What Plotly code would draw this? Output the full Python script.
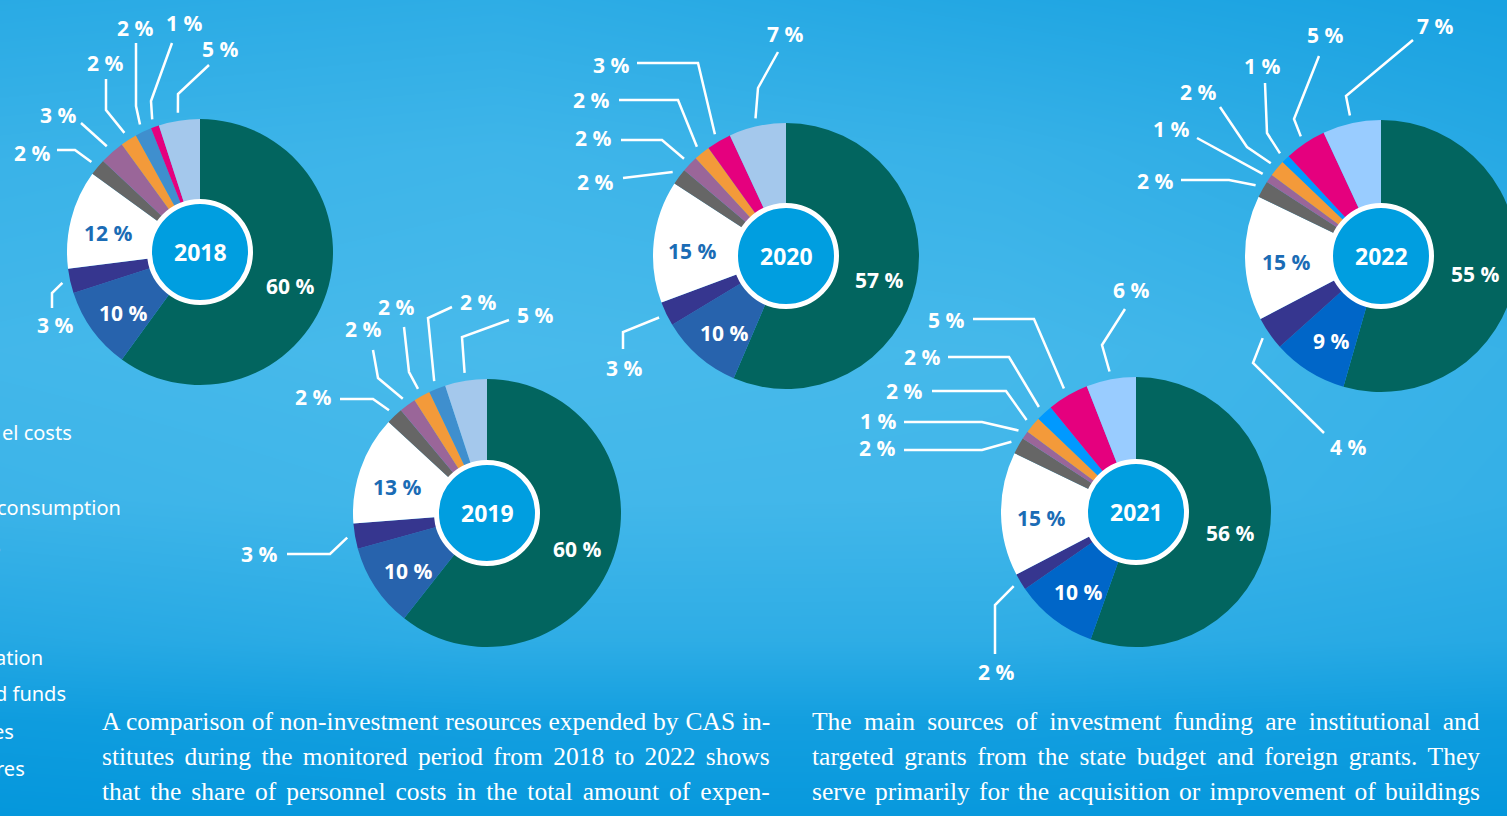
import math
import plotly.graph_objects as go

# ---------------- data ----------------
years = ["2018", "2019", "2020", "2021", "2022"]

# slice categories (clockwise from 12 o'clock)
cats_2018 = ["A", "B", "C", "D", "E", "F", "G", "H", "I", "J"]
cats_2019 = ["A", "B", "C", "D", "E", "F", "G", "H", "J"]
cats_2020 = ["A", "B", "C", "D", "E", "F", "G", "I", "J"]
cats_2021 = ["A", "B", "C", "D", "E", "F", "G", "H", "I", "J"]
cats_2022 = ["A", "B", "C", "D", "E", "F", "G", "H", "I", "J"]

vals_2018 = [60, 10, 3, 12, 2, 3, 2, 2, 1, 5]
vals_2019 = [60, 10, 3, 13, 2, 2, 2, 2, 5]
vals_2020 = [57, 10, 3, 15, 2, 2, 2, 3, 7]
vals_2021 = [56, 10, 2, 15, 2, 1, 2, 2, 5, 6]
vals_2022 = [55, 9, 4, 15, 2, 1, 2, 1, 5, 7]

legend_fragments = ["el costs", "consumption", "s", "ation", "d funds", "es", "res"]

para_left = [
    "A comparison of non-investment resources expended by CAS in-",
    "stitutes during the monitored period from 2018 to 2022 shows",
    "that the share of personnel costs in the total amount of expen-",
]
para_right = [
    "The main sources of investment funding are institutional and",
    "targeted grants from the state budget and foreign grants. They",
    "serve primarily for the acquisition or improvement of buildings",
]

# ---------------- style / layout ----------------
W, H = 1525, 816

colors_old = {"A": "#02655f", "B": "#2763ad", "C": "#36368f", "D": "#ffffff",
              "E": "#666666", "F": "#9a6699", "G": "#f39a3a", "H": "#3f8fce",
              "I": "#e5007e", "J": "#a4c8ec"}
colors_new = dict(colors_old, B="#0066c8", H="#0099ff", J="#99ccff")

pies = [
    dict(year="2018", cats=cats_2018, vals=vals_2018, cx=200, cy=252, r=133, pal=colors_old,
         out={2: ((55, 325), [(52, 308), (52, 293)]),
              4: ((32, 153), [(57, 150), (75, 150)]),
              5: ((58, 115), [(81, 123)]),
              6: ((105, 63), [(106, 79), (106, 110)]),
              7: ((135, 28), [(136, 43), (136, 106)]),
              8: ((184, 23), [(172, 43), (151, 101)]),
              9: ((220, 49), [(209, 65), (178, 94)])}),
    dict(year="2019", cats=cats_2019, vals=vals_2019, cx=487, cy=513, r=134, pal=colors_old,
         out={2: ((259, 554), [(287, 554), (330, 554)]),
              4: ((313, 397), [(340, 399), (373, 399)]),
              5: ((363, 329), [(373, 350), (378, 378)]),
              6: ((396, 307), [(404, 327), (409, 372)]),
              7: ((478, 302), [(452, 307), (428, 318)]),
              8: ((535, 315), [(509, 320), (462, 337)])}),
    dict(year="2020", cats=cats_2020, vals=vals_2020, cx=786, cy=256, r=133, pal=colors_old,
         out={2: ((624, 368), [(623, 349), (623, 332)]),
              4: ((595, 182), [(623, 178)]),
              5: ((593, 138), [(621, 140), (662, 140)]),
              6: ((591, 100), [(619, 100), (678, 100)]),
              7: ((611, 65), [(637, 63), (698, 63)]),
              8: ((785, 34), [(778, 52), (758, 88)])}),
    dict(year="2021", cats=cats_2021, vals=vals_2021, cx=1136, cy=512, r=135, pal=colors_new,
         out={2: ((996, 672), [(995, 654), (995, 605)]),
              4: ((877, 448), [(904, 450), (982, 450)]),
              5: ((878, 421), [(904, 422), (982, 422)]),
              6: ((904, 391), [(932, 391), (1006, 391)]),
              7: ((922, 357), [(948, 357), (1009, 357)]),
              8: ((946, 320), [(973, 319), (1034, 319)]),
              9: ((1131, 290), [(1125, 309), (1102, 345)])}),
    dict(year="2022", cats=cats_2022, vals=vals_2022, cx=1381, cy=256, r=136, pal=colors_new,
         out={2: ((1348, 447), [(1324, 433), (1253, 363)]),
              4: ((1155, 181), [(1181, 180), (1229, 180)]),
              5: ((1171, 129), [(1197, 138)]),
              6: ((1198, 92), [(1220, 107), (1247, 147)]),
              7: ((1262, 66), [(1265, 83), (1267, 133)]),
              8: ((1325, 35), [(1319, 56), (1294, 119)]),
              9: ((1435, 26), [(1413, 40), (1346, 96)])}),
]

# background gradient (lightness grid)
bg_x = [0, 500, 1000, 1525]
bg_y = [0, 150, 350, 500, 640, 720, 816]
bg_z = [
    [0.55, 0.62, 0.45, 0.30],
    [0.78, 0.86, 0.75, 0.50],
    [0.92, 1.00, 0.95, 0.75],
    [0.82, 0.92, 0.90, 0.70],
    [0.48, 0.62, 0.62, 0.50],
    [0.15, 0.22, 0.22, 0.15],
    [0.00, 0.05, 0.05, 0.00],
]

fig = go.Figure()
fig.add_trace(go.Heatmap(x=bg_x, y=bg_y, z=bg_z, zmin=0, zmax=1, zsmooth="best",
                         colorscale=[[0, "#0497dc"], [1, "#48baeb"]],
                         showscale=False, hoverinfo="skip"))

shapes = []
annotations = []
BOLD = dict(family="Open Sans", size=21, color="white", weight=700)

def pt(cx, cy, rad, frac):
    a = 2 * math.pi * frac
    return cx + rad * math.sin(a), cy - rad * math.cos(a)

for p in pies:
    cx, cy, r = p["cx"], p["cy"], p["r"]
    fig.add_trace(go.Pie(
        values=p["vals"], labels=p["cats"],
        marker=dict(colors=[p["pal"][c] for c in p["cats"]], line=dict(width=0)),
        sort=False, direction="clockwise", rotation=0, hole=0.37,
        textinfo="none", hoverinfo="skip", showlegend=False,
        domain=dict(x=[(cx - r) / W, (cx + r) / W], y=[1 - (cy + r) / H, 1 - (cy - r) / H]),
    ))
    total = sum(p["vals"])
    cum = 0
    for i, v in enumerate(p["vals"]):
        mid = (cum + v / 2) / total
        cum += v
        txt = f"{v} %"
        if i in p["out"]:
            (tx, ty), elbows = p["out"][i]
            ex, ey = pt(cx, cy, r + 8, mid)
            pts = elbows + [(ex, ey)]
            path = "M " + " L ".join(f"{x:.1f},{y:.1f}" for x, y in pts)
            shapes.append(dict(type="path", xref="x", yref="y", path=path,
                               line=dict(color="white", width=2.5)))
            annotations.append(dict(x=tx, y=ty, xref="x", yref="y", text=txt, showarrow=False,
                                    xanchor="center", yanchor="middle", font=BOLD))
        elif i in (0, 1, 3):
            lx, ly = pt(cx, cy, 95, mid)
            f = dict(BOLD)
            if i == 3:
                f["color"] = "#1b6cb5"
            annotations.append(dict(x=lx, y=ly + 5, xref="x", yref="y", text=txt, showarrow=False,
                                    xanchor="center", yanchor="middle", font=f))
    shapes.append(dict(type="circle", xref="x", yref="y", x0=cx - 50.5, x1=cx + 50.5,
                       y0=cy - 50.5, y1=cy + 50.5, fillcolor="#009ee0",
                       line=dict(color="white", width=5)))
    annotations.append(dict(x=cx, y=cy, xref="x", yref="y", text=p["year"], showarrow=False,
                            xanchor="center", yanchor="middle",
                            font=dict(family="Open Sans", size=23, color="white", weight=700)))

# cut-off legend texts at left edge (as in the reference)
frag_pos = [(74, 432), (123, 507), (3, 545), (45, 657), (68, 693), (16, 731), (27, 768)]
for t, (x, y) in zip(legend_fragments, frag_pos):
    annotations.append(dict(x=x, y=y, xref="x", yref="y", text=t, showarrow=False,
                            xanchor="right", yanchor="middle",
                            font=dict(family="Noto Sans", size=20, color="white")))

# justified paragraphs: per-line word spacing (px)
ws_left = [0.5, 3.9, 3.6]
ws_right = [5.9, 4.3, 2.75]
for lines, wss, x0 in ((para_left, ws_left, 100), (para_right, ws_right, 810)):
    for k, (line, ws) in enumerate(zip(lines, wss)):
        annotations.append(dict(x=x0, y=721 + 35 * k, xref="x", yref="y",
                                text=f'<span style="word-spacing:{ws}px">{line}</span>',
                                showarrow=False, xanchor="left", yanchor="middle",
                                font=dict(family="Liberation Serif", size=25.5, color="white")))

fig.update_layout(
    width=W, height=H, margin=dict(l=0, r=0, t=0, b=0),
    paper_bgcolor="#2aa9e6", plot_bgcolor="rgba(0,0,0,0)",
    xaxis=dict(range=[0, W], visible=False, fixedrange=True),
    yaxis=dict(range=[H, 0], visible=False, fixedrange=True),
    showlegend=False, shapes=shapes, annotations=annotations,
)

fig.write_html("out.html", config=dict(displayModeBar=False),
               post_script="document.body.style.margin='0';"
                           "document.documentElement.style.overflow='hidden';"
                           "document.body.style.overflow='hidden';")
